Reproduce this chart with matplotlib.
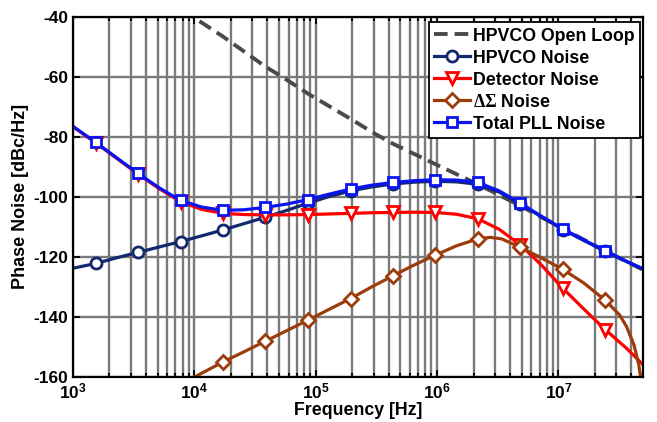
import matplotlib
matplotlib.use('Agg')
import matplotlib.pyplot as plt
from matplotlib.ticker import FixedLocator, FuncFormatter, NullFormatter
import numpy as np

plt.rcParams['font.family'] = ['Liberation Sans', 'DejaVu Sans']
plt.rcParams['font.weight'] = 'bold'
plt.rcParams['axes.unicode_minus'] = False
plt.rcParams['mathtext.fontset'] = 'custom'
plt.rcParams['mathtext.bf'] = 'Liberation Sans:bold'
plt.rcParams['mathtext.rm'] = 'Liberation Serif'

# frequency grid shared by the loop noise curves [Hz]
freq = [1e3, 1540, 2300, 3440, 5150, 7710, 11500, 17300, 25800, 38600, 57800,
        86500, 129000, 194000, 290000, 434000, 649000, 970000, 1.45e6, 2.17e6,
        3.25e6, 4.86e6, 7.28e6, 1.09e7, 1.63e7, 2.44e7, 3.65e7, 5e7]

total_pll = [-76.5, -81.8, -87.0, -92.2, -97.0, -101.2, -103.4, -104.5, -104.3,
             -103.5, -102.4, -100.9, -99.1, -97.4, -96.1, -95.2, -94.6, -94.3,
             -94.4, -95.2, -98.0, -102.1, -106.5, -110.7, -114.4, -118.0,
             -121.5, -124.0]

detector = [-76.6, -82.0, -87.2, -92.4, -97.3, -101.6, -104.2, -105.5, -105.9,
            -106.0, -106.0, -105.9, -105.7, -105.5, -105.3, -105.2, -105.1,
            -105.2, -105.8, -107.3, -110.8, -116.0, -122.8, -130.5, -137.5,
            -144.3, -150.5, -156.0]

hpvco = [-123.8, -122.2, -120.3, -118.5, -116.7, -114.9, -113.0, -111.0,
         -108.9, -106.8, -104.5, -102.1, -99.9, -98.0, -96.7, -95.7, -95.1,
         -94.8, -95.0, -95.8, -98.4, -102.4, -106.7, -110.9, -114.6, -118.2,
         -121.6, -124.2]

# delta-sigma noise (own grid, steep notch near 50 MHz)
freq_ds = [7710, 11500, 17300, 25800, 38600, 57800, 86500, 129000, 194000,
           290000, 434000, 649000, 970000, 1.45e6, 2.17e6, 2.75e6, 3.4e6, 4.86e6,
           7.28e6, 1.09e7, 1.63e7, 2.44e7, 3.2e7, 3.65e7, 4.2e7, 4.6e7, 5e7]
delta_sigma = [-162.5, -158.8, -155.0, -151.6, -148.1, -144.6, -141.1, -137.5,
               -133.9, -130.0, -126.3, -122.7, -119.4, -116.3, -114.0, -113.5,
               -114.0, -116.8, -120.4, -124.2, -128.8, -134.5, -139.4, -143.3,
               -149.4, -156.0, -166.0]

# free running oscillator
freq_ol = [8000, 1e4, 1.73e4, 3.86e4, 5.3e4, 8.65e4, 1.94e5, 3e5, 4.34e5,
           9.7e5, 2.17e6, 4.86e6, 1.09e7, 2.44e7, 5e7]
open_loop = [-37.5, -40.3, -46.6, -56.6, -60.0, -65.6, -74.0, -78.7, -82.3,
             -89.1, -95.8, -103.0, -110.6, -118.1, -124.3]

marks = list(range(1, 26, 2))
marks_ds = [2, 4, 6, 8, 10, 12, 14, 17, 19, 21]

fig = plt.figure(figsize=(6.57, 4.22), dpi=100)
ax = fig.add_axes([0.111, 0.107, 0.868, 0.853])

lw = 2.3
ms = 8
ax.plot(freq_ol, open_loop, '--', color='#4a4a4a', lw=2.8, dashes=(3.5, 1.8),
        label='HPVCO Open Loop')
ax.plot(freq, hpvco, '-o', color='#13286e', lw=lw, ms=ms, mew=2,
        mfc='white', markevery=marks, label='HPVCO Noise')
ax.plot(freq, detector, '-v', color='#ff0000', lw=lw, ms=ms + 1, mew=2,
        mfc='white', markevery=marks, label='Detector Noise')
ax.plot(freq_ds, delta_sigma, '-D', color='#9c3c0c', lw=lw, ms=ms - 1, mew=2,
        mfc='white', markevery=marks_ds, label=r'$\mathrm{\Delta\Sigma}$ Noise')
ax.plot(freq, total_pll, '-s', color='#0a14f0', lw=lw, ms=ms - 0.5, mew=2,
        mfc='white', markevery=marks, label='Total PLL Noise')

ax.set_xscale('log')
ax.set_xlim(1e3, 5e7)
ax.set_ylim(-160, -40)
ax.set_yticks(np.arange(-160, -39, 20))

ax.xaxis.set_major_locator(FixedLocator([1e3, 1e4, 1e5, 1e6, 1e7]))
minors = [m * 10 ** d for d in range(3, 8) for m in range(2, 10) if m * 10 ** d < 5e7]
ax.xaxis.set_minor_locator(FixedLocator(minors))
ax.xaxis.set_minor_formatter(NullFormatter())
ax.xaxis.set_major_formatter(FuncFormatter(
    lambda v, p: r'$\mathbf{10^{%d}}$' % round(np.log10(v))))

ax.grid(True, which='both', axis='x', color='#7a7a7a', lw=1.7)
ax.grid(True, which='major', axis='y', color='#7a7a7a', lw=1.7)
ax.set_axisbelow(True)

ax.tick_params(which='both', direction='in', top=True, right=True,
               labelsize=12.5, width=1.3)
ax.tick_params(which='major', length=5)
ax.tick_params(which='minor', length=3)
for s in ax.spines.values():
    s.set_linewidth(1.6)

ax.set_xlabel('Frequency [Hz]', fontsize=12.8, fontweight='bold', labelpad=0)
ax.set_ylabel('Phase Noise [dBc/Hz]', fontsize=13, fontweight='bold', labelpad=3)

leg = ax.legend(loc='upper right', bbox_to_anchor=(0.995, 0.985), fontsize=12.8,
                frameon=True, fancybox=False, framealpha=1, edgecolor='black',
                handlelength=2.0, handletextpad=0.2, labelspacing=0.28,
                borderpad=0.3, borderaxespad=0)
leg.get_frame().set_linewidth(1.3)

fig.savefig('out.png', dpi=100)
